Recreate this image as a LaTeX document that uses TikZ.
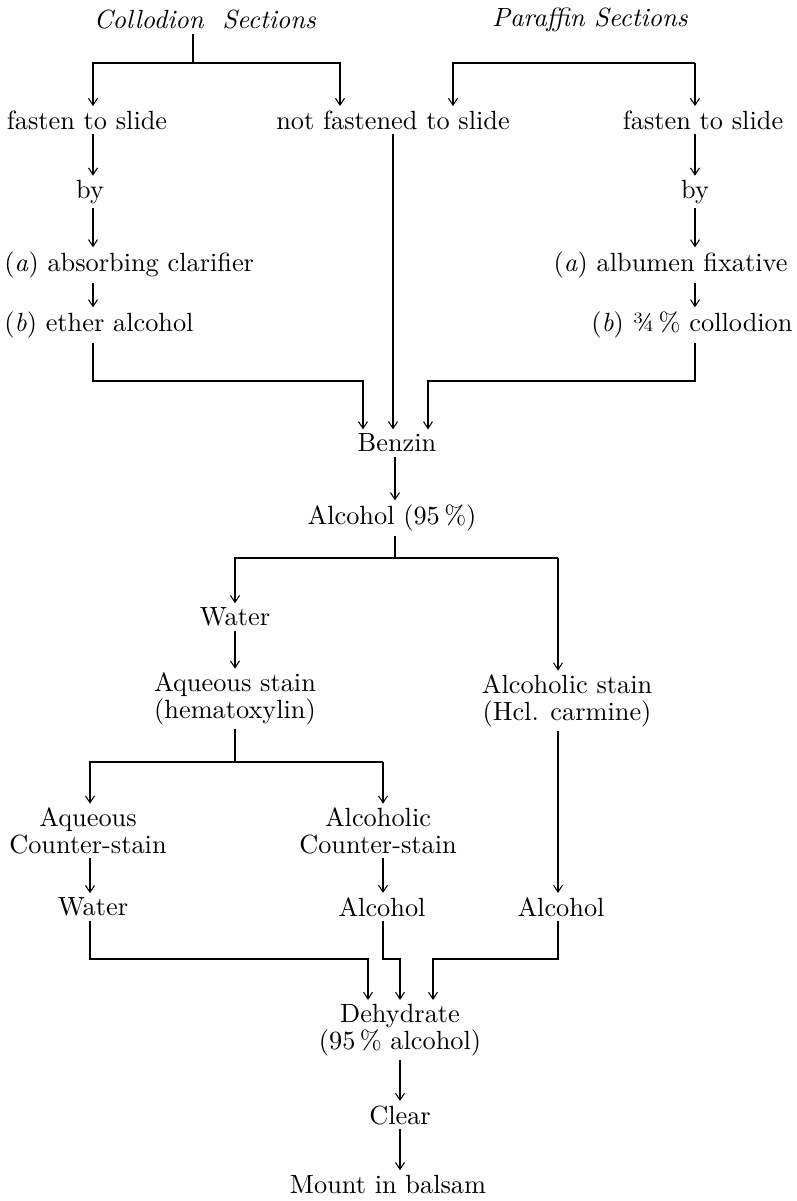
\documentclass[tikz,border=0pt]{standalone}
\usetikzlibrary{arrows.meta}

\begin{document}
\begin{tikzpicture}[x=0.38pt, y=-0.38pt,
    lbl/.style={inner sep=1.5pt, align=center},
    wire/.style={line width=0.4pt},
    flow/.style={wire, -{Straight Barb[length=2.6pt,width=3.4pt]}}]
    \useasboundingbox (0,0) rectangle (797,1201);

    % columns and rows of the connectors
    \coordinate (xA) at (93,0);
    \coordinate (xB) at (193,0);
    \coordinate (xC) at (340,0);
    \coordinate (xD) at (453,0);
    \coordinate (xE) at (695,0);
    \coordinate (xF) at (393,0);
    \coordinate (xG) at (363,0);
    \coordinate (xH) at (428,0);
    \coordinate (xI) at (395,0);
    \coordinate (xJ) at (235,0);
    \coordinate (xK) at (558,0);
    \coordinate (xL) at (90,0);
    \coordinate (xM) at (383,0);
    \coordinate (xN) at (368,0);
    \coordinate (xO) at (400,0);
    \coordinate (xP) at (433,0);
    \coordinate (r1) at (0,63);
    \coordinate (r2) at (0,381);
    \coordinate (r3) at (0,558);
    \coordinate (r4) at (0,762);
    \coordinate (r5) at (0,959);

    % labels
    \node[lbl] (colTitle) at (205,20) {\textit{Collodion\ \ Sections}};
    \node[lbl] (parTitle) at (590,20) {\textit{Paraffin Sections}};
    \node[lbl] (fastenL) at (87,120) {fasten to slide};
    \node[lbl] (notFast) at (393,120) {not fastened to slide};
    \node[lbl] (fastenR) at (703,120) {fasten to slide};
    \node[lbl] (byL) at (90,192) {by};
    \node[lbl] (byR) at (695,192) {by};
    \node[lbl, anchor=west] (absorb) at (0,265) {(\textit{a}) absorbing clarifier};
    \node[lbl, anchor=east] (albumen) at (792,265) {(\textit{a}) albumen fixative};
    \node[lbl, anchor=west] (ether) at (0,325) {(\textit{b}) ether\ alcohol};
    \node[lbl, anchor=east] (collod) at (797,325) {(\textit{b}) ¾\,\% collodion};
    \node[lbl] (benzin) at (397,443) {Benzin};
    \node[lbl] (alc95) at (392,518) {Alcohol (95\,\%)};
    \node[lbl] (water1) at (235,617) {Water};
    \node[lbl] (aqStain) at (235,699) {Aqueous stain\\[-2pt](hematoxylin)};
    \node[lbl] (alcStain) at (567,701) {Alcoholic stain\\[-2pt](Hcl. carmine)};
    \node[lbl] (aqCount) at (88,831) {Aqueous\\[-2pt]Counter-stain};
    \node[lbl] (alcCount) at (378,831) {Alcoholic\\[-2pt]Counter-stain};
    \node[lbl] (waterL) at (93,907) {Water};
    \node[lbl] (alcM) at (382,907) {Alcohol};
    \node[lbl] (alcR) at (561,907) {Alcohol};
    \node[lbl] (dehyd) at (400,1030) {Dehydrate\\[-2pt](95\,\% alcohol)};
    \node[lbl] (clear) at (400,1115) {Clear};
    \node[lbl] (mount) at (388,1184) {Mount in balsam};

    % collodion and paraffin splits
    \draw[wire] (colTitle.south -| xB) -- (xB |- r1);
    \draw[flow] (xB |- r1) -| (xA |- fastenL.north);
    \draw[flow] (xB |- r1) -| (xC |- notFast.north);
    \draw[flow] (xE |- r1) -| (xD |- notFast.north);
    \draw[flow] (xE |- r1) -- (xE |- fastenR.north);

    % fastening steps
    \draw[flow] (xA |- fastenL.south) -- (xA |- byL.north);
    \draw[flow] (xA |- byL.south) -- (xA |- absorb.north);
    \draw[flow] (xA |- absorb.south) -- (xA |- ether.north);
    \draw[flow] (xE |- fastenR.south) -- (xE |- byR.north);
    \draw[flow] (xE |- byR.south) -- (xE |- albumen.north);
    \draw[flow] (xE |- albumen.south) -- (xE |- collod.north);

    % into benzin
    \draw[flow] (xA |- ether.south) -- (xA |- r2) -| (xG |- benzin.north);
    \draw[flow] (xF |- notFast.south) -- (xF |- benzin.north);
    \draw[flow] (xE |- collod.south) -- (xE |- r2) -| (xH |- benzin.north);
    \draw[flow] (xI |- benzin.south) -- (xI |- alc95.north);

    % staining
    \draw[wire] (xI |- alc95.south) -- (xI |- r3);
    \draw[flow] (xK |- r3) -| (xJ |- water1.north);
    \draw[flow] (xK |- r3) -- (xK |- alcStain.north);
    \draw[flow] (xJ |- water1.south) -- (xJ |- aqStain.north);
    \draw[wire] (xJ |- aqStain.south) -- (xJ |- r4);
    \draw[flow] (xM |- r4) -| (xL |- aqCount.north);
    \draw[flow] (xM |- r4) -- (xM |- alcCount.north);
    \draw[flow] (xL |- aqCount.south) -- (xL |- waterL.north);
    \draw[flow] (xM |- alcCount.south) -- (xM |- alcM.north);
    \draw[flow] (xK |- alcStain.south) -- (xK |- alcR.north);

    % into dehydrate
    \draw[flow] (xL |- waterL.south) -- (xL |- r5) -| (xN |- dehyd.north);
    \draw[flow] (xM |- alcM.south) -- (xM |- r5) -| (xO |- dehyd.north);
    \draw[flow] (xK |- alcR.south) -- (xK |- r5) -| (xP |- dehyd.north);
    \draw[flow] (xO |- dehyd.south) -- (xO |- clear.north);
    \draw[flow] (xO |- clear.south) -- (xO |- mount.north);
\end{tikzpicture}
\end{document}
